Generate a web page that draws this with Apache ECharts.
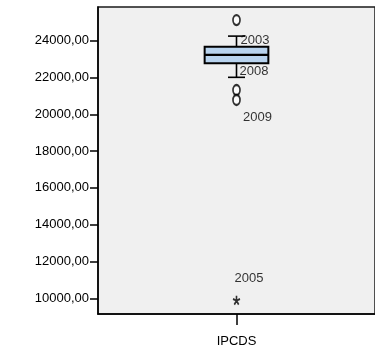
<!DOCTYPE html>
<html>
<head>
<meta charset="utf-8">
<script src="https://cdn.jsdelivr.net/npm/echarts@6/dist/echarts.min.js"></script>
<style>
html,body{margin:0;padding:0;background:#fff;}
#chart{width:375px;height:353px;}
</style>
</head>
<body>
<div id="chart"></div>
<script>
// ---- data ----
var categories = ['IPCDS'];
// [lower whisker, Q1, median, Q3, upper whisker]
var boxValues = [22010, 22770, 23230, 23670, 24250];
var outlierValues = [25120, 21320, 20780];
var outlierYears = ['2003', '2008', '2009'];
var extremeValues = [9900];
var extremeYears = ['2005'];
var yTickValues = [10000, 12000, 14000, 16000, 18000, 20000, 22000, 24000];

// ---- styling ----
var FONT = "'Liberation Sans',Arial,sans-serif";
var FS = 13;
var outlierOffsets = [[18.5, 20], [17.5, -19], [21, 17]];
var extremeOffsets = [[12.5, -22]];

var chart = echarts.init(document.getElementById('chart'), null, {renderer: 'canvas'});

function fmt(v) { return v.toFixed(2).replace('.', ','); }

var option = {
  animation: false,
  grid: {
    left: 98, width: 283, top: 7, bottom: 39,
    show: true, backgroundColor: '#f0f0f0',
    borderColor: '#1a1a1a', borderWidth: 1.5
  },
  xAxis: {
    type: 'category',
    data: categories,
    axisLine: {show: true, lineStyle: {color: '#000', width: 1.5}},
    axisTick: {show: true, length: 11, alignWithLabel: true, lineStyle: {color: '#000', width: 1.5}},
    axisLabel: {margin: 21, color: '#000', fontFamily: FONT, fontSize: FS},
    splitLine: {show: false}
  },
  yAxis: {
    type: 'value',
    min: 9147, max: 25832,
    axisLine: {show: true, lineStyle: {color: '#000', width: 1.5}},
    axisTick: {show: true, length: 8, customValues: yTickValues, lineStyle: {color: '#000', width: 1.5}},
    axisLabel: {margin: 9, color: '#000', fontFamily: FONT, fontSize: FS,
      customValues: yTickValues, formatter: function (v) { return fmt(v); }},
    splitLine: {show: false}
  },
  series: [
    {
      type: 'custom',
      data: [[0].concat(boxValues)],
      encode: {x: 0, y: [1, 2, 3, 4, 5]},
      renderItem: function (params, api) {
        var x = api.value(0);
        var pMin = api.coord([x, api.value(1)]);
        var pQ1 = api.coord([x, api.value(2)]);
        var pMed = api.coord([x, api.value(3)]);
        var pQ3 = api.coord([x, api.value(4)]);
        var pMax = api.coord([x, api.value(5)]);
        var band = api.size([1, 0])[0];
        var hw = band * 0.115;
        var cw = 8.5;
        var cx = pMed[0];
        var ls = {stroke: '#000', lineWidth: 1.6};
        return {
          type: 'group',
          children: [
            {type: 'line', shape: {x1: cx, y1: pMax[1], x2: cx, y2: pQ3[1]}, style: ls},
            {type: 'line', shape: {x1: cx, y1: pQ1[1], x2: cx, y2: pMin[1]}, style: ls},
            {type: 'line', shape: {x1: cx - cw, y1: pMax[1], x2: cx + cw, y2: pMax[1]}, style: ls},
            {type: 'line', shape: {x1: cx - cw, y1: pMin[1], x2: cx + cw, y2: pMin[1]}, style: ls},
            {type: 'rect', shape: {x: cx - hw, y: pQ3[1], width: 2 * hw, height: pQ1[1] - pQ3[1]},
              style: {fill: '#b8d3ee', stroke: '#000', lineWidth: 2}},
            {type: 'line', shape: {x1: cx - hw, y1: pMed[1], x2: cx + hw, y2: pMed[1]},
              style: {stroke: '#000', lineWidth: 2.2}}
          ]
        };
      }
    },
    {
      type: 'scatter',
      symbol: 'emptyCircle',
      symbolSize: [7, 10],
      itemStyle: {color: '#000', borderColor: '#000', borderWidth: 1.2},
      data: outlierValues.map(function (v, i) {
        return {
          value: [categories[0], v],
          label: {show: true, position: 'inside', offset: outlierOffsets[i],
            formatter: outlierYears[i], color: '#000', fontFamily: FONT, fontSize: FS}
        };
      })
    },
    {
      type: 'scatter',
      symbol: 'path://M0,-5L0,0M0,0L4.75,-1.55M0,0L2.94,4.05M0,0L-2.94,4.05M0,0L-4.75,-1.55',
      symbolSize: [7, 9],
      itemStyle: {color: 'none', borderColor: '#000', borderWidth: 1.8},
      data: extremeValues.map(function (v, i) {
        return {
          value: [categories[0], v],
          label: {show: true, position: 'inside', offset: extremeOffsets[i],
            formatter: extremeYears[i], color: '#000', fontFamily: FONT, fontSize: FS}
        };
      })
    }
  ]
};
chart.setOption(option);
</script>
</body>
</html>
